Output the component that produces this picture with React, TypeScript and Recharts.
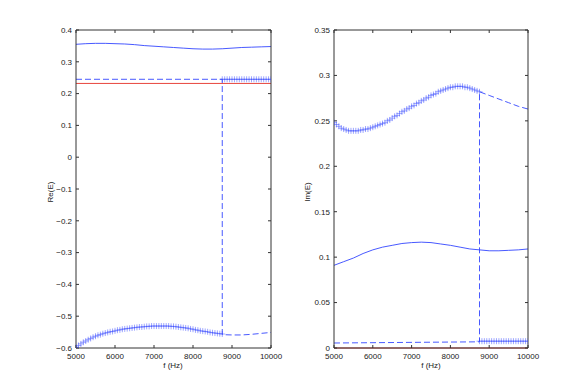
import React from "react";
import { ComposedChart, Line, XAxis, YAxis, ReferenceLine } from "recharts";

// marker frequency grid (Hz)
const markF = [
  5000, 5062.5, 5125, 5187.5, 5250, 5312.5, 5375, 5437.5, 5500, 5562.5,
  5625, 5687.5, 5750, 5812.5, 5875, 5937.5, 6000, 6062.5, 6125, 6187.5,
  6250, 6312.5, 6375, 6437.5, 6500, 6562.5, 6625, 6687.5, 6750, 6812.5,
  6875, 6937.5, 7000, 7062.5, 7125, 7187.5, 7250, 7312.5, 7375, 7437.5,
  7500, 7562.5, 7625, 7687.5, 7750, 7812.5, 7875, 7937.5, 8000, 8062.5,
  8125, 8187.5, 8250, 8312.5, 8375, 8437.5, 8500, 8562.5, 8625, 8687.5,
  8750, 8812.5, 8875, 8937.5, 9000, 9062.5, 9125, 9187.5, 9250, 9312.5,
  9375, 9437.5, 9500, 9562.5, 9625, 9687.5, 9750, 9812.5, 9875, 9937.5,
  10000,
];

// Re(E) markers: lower branch 5000-8750, upper branch 8750-10000
const reMarkLow = [
  -0.597, -0.592, -0.587, -0.582, -0.578, -0.574, -0.57, -0.566, -0.563, -0.56,
  -0.558, -0.555, -0.553, -0.551, -0.549, -0.548, -0.546, -0.544, -0.543, -0.541,
  -0.54, -0.539, -0.538, -0.537, -0.536, -0.535, -0.534, -0.534, -0.533, -0.532,
  -0.532, -0.531, -0.531, -0.531, -0.531, -0.531, -0.531, -0.531, -0.531, -0.532,
  -0.532, -0.533, -0.534, -0.535, -0.536, -0.537, -0.538, -0.54, -0.541, -0.543,
  -0.544, -0.546, -0.547, -0.548, -0.549, -0.551, -0.552, -0.553, -0.554, -0.555,
  -0.556,
];
const reMarkHigh = [
  0.245, 0.245, 0.245, 0.245, 0.245, 0.245, 0.245, 0.245, 0.245, 0.245,
  0.245, 0.245, 0.245, 0.245, 0.245, 0.245, 0.245, 0.245, 0.245, 0.245, 0.245,
];

// Im(E) markers: upper branch 5000-8750, lower branch 8750-10000
const imMarkHigh = [
  0.248, 0.246, 0.244, 0.242, 0.241, 0.24, 0.239, 0.239, 0.239, 0.239,
  0.239, 0.24, 0.24, 0.241, 0.241, 0.242, 0.243, 0.244, 0.245, 0.246,
  0.247, 0.248, 0.25, 0.251, 0.253, 0.255, 0.256, 0.258, 0.26, 0.261,
  0.263, 0.264, 0.266, 0.267, 0.269, 0.27, 0.272, 0.273, 0.275, 0.276,
  0.278, 0.279, 0.28, 0.282, 0.283, 0.284, 0.285, 0.286, 0.287, 0.287,
  0.288, 0.288, 0.288, 0.288, 0.287, 0.287, 0.286, 0.285, 0.284, 0.283,
  0.282,
];
const imMarkLow = [
  0.0075, 0.0075, 0.0075, 0.0075, 0.0075, 0.0075, 0.0075, 0.0075, 0.0075, 0.0075,
  0.0075, 0.0075, 0.0075, 0.0075, 0.0075, 0.0075, 0.0075, 0.0075, 0.0075, 0.0075, 0.0075,
];

// solid curves
const solidF = [
  5000, 5250, 5500, 5750, 6000, 6250, 6500, 6750, 7000, 7250, 7500,
  7750, 8000, 8250, 8500, 8750, 9000, 9250, 9500, 9750, 10000,
];
const reSolid = [
  0.355, 0.357, 0.358, 0.358, 0.357, 0.356, 0.354, 0.351, 0.349, 0.347, 0.345,
  0.343, 0.341, 0.34, 0.34, 0.341, 0.343, 0.345, 0.346, 0.347, 0.348,
];
const imSolid = [
  0.091, 0.095, 0.099, 0.104, 0.108, 0.111, 0.113, 0.115, 0.116, 0.1165, 0.116,
  0.1145, 0.113, 0.111, 0.109, 0.108, 0.107, 0.107, 0.1075, 0.108, 0.109,
];

// dashed curves (jump at 8750 Hz)
const dashF = [5000, 8750, 8750, 9000, 9250, 9500, 9750, 10000];
const reDash = [0.245, 0.245, -0.558, -0.559, -0.559, -0.557, -0.554, -0.551];
const imDash = [0.0055, 0.0068, 0.282, 0.278, 0.274, 0.27, 0.266, 0.263];

const reRef = 0.232;
const imRef = 0;

const fTicks = [5000, 6000, 7000, 8000, 9000, 10000];
const reTicks = [-0.6, -0.5, -0.4, -0.3, -0.2, -0.1, 0, 0.1, 0.2, 0.3, 0.4];
const imTicks = [0, 0.05, 0.1, 0.15, 0.2, 0.25, 0.3, 0.35];

const zip = (fs: number[], vs: number[]) => vs.map((v, i) => ({ f: fs[i], v }));

const BLUE = "#3346ff";
const FONT = "'Liberation Sans', Arial, sans-serif";
const tickStyle = { fill: "#222", fontSize: 8, fontFamily: FONT };
const fmt = (v: number) => (v < 0 ? "\u2212" + String(-v) : String(v));
const blank = () => "";

const plus = (p: any) => (
  <g key={p.index}>
    <line x1={p.cx - 3} x2={p.cx + 3} y1={p.cy} y2={p.cy} stroke={BLUE} strokeWidth={0.8} strokeOpacity={0.6} />
    <line x1={p.cx} x2={p.cx} y1={p.cy - 3} y2={p.cy + 3} stroke={BLUE} strokeWidth={0.8} strokeOpacity={0.6} />
  </g>
);

interface PanelProps {
  left: number;
  width: number;
  margin: { top: number; right: number; bottom: number; left: number };
  domain: [number, number];
  yTicks: number[];
  solid: { f: number; v: number }[];
  dashed: { f: number; v: number }[];
  marksA: { f: number; v: number }[];
  marksB: { f: number; v: number }[];
  refY: number;
}

// axis sizes: bottom 20, top 5, left 30, right 5 (margins are reduced by these)
function Panel({ left, width, margin, domain, yTicks, solid, dashed, marksA, marksB, refY }: PanelProps) {
  return (
    <div style={{ position: "absolute", left, top: 0 }}>
      <ComposedChart width={width} height={391} margin={margin}>
        <ReferenceLine xAxisId="b" yAxisId="l" y={refY} stroke="#e8453c" strokeWidth={1} />
        <XAxis xAxisId="b" dataKey="f" type="number" domain={[5000, 10000]} ticks={fTicks} allowDataOverflow
          height={20} tickSize={-3} tickMargin={8} tick={tickStyle} axisLine={{ stroke: "#333" }} tickLine={{ stroke: "#333" }} />
        <XAxis xAxisId="t" orientation="top" dataKey="f" type="number" domain={[5000, 10000]} ticks={fTicks} allowDataOverflow
          height={5} tickSize={-3} tickFormatter={blank} axisLine={{ stroke: "#333" }} tickLine={{ stroke: "#333" }} />
        <YAxis yAxisId="l" type="number" domain={domain} ticks={yTicks} allowDataOverflow
          width={30} tickSize={-3} tickMargin={7} tick={tickStyle} tickFormatter={fmt} axisLine={{ stroke: "#333" }} tickLine={{ stroke: "#333" }} />
        <YAxis yAxisId="r" orientation="right" type="number" domain={domain} ticks={yTicks} allowDataOverflow
          width={5} tickSize={-3} tickFormatter={blank} axisLine={{ stroke: "#333" }} tickLine={{ stroke: "#333" }} />
        <Line xAxisId="b" yAxisId="l" data={solid} dataKey="v" stroke={BLUE} strokeWidth={0.9} dot={false} activeDot={false} isAnimationActive={false} />
        <Line xAxisId="b" yAxisId="l" data={dashed} dataKey="v" stroke={BLUE} strokeWidth={0.9} strokeDasharray="6 3" dot={false} activeDot={false} isAnimationActive={false} />
        <Line xAxisId="b" yAxisId="l" data={marksA} dataKey="v" stroke="none" dot={plus} activeDot={false} isAnimationActive={false} />
        <Line xAxisId="b" yAxisId="l" data={marksB} dataKey="v" stroke="none" dot={plus} activeDot={false} isAnimationActive={false} />
      </ComposedChart>
    </div>
  );
}

const labelBase: React.CSSProperties = {
  position: "absolute",
  fontSize: 8,
  fontFamily: FONT,
  color: "#222",
  whiteSpace: "nowrap",
};

export default function App() {
  return (
    <div style={{ position: "absolute", left: 0, top: 0, width: 585, height: 391, background: "#fff" }}>
      <Panel
        left={0}
        width={290}
        margin={{ top: 25, right: 14, bottom: 23, left: 46 }}
        domain={[-0.6, 0.4]}
        yTicks={reTicks}
        solid={zip(solidF, reSolid)}
        dashed={zip(dashF, reDash)}
        marksA={zip(markF, reMarkLow)}
        marksB={zip(markF.slice(60), reMarkHigh)}
        refY={reRef}
      />
      <Panel
        left={290}
        width={295}
        margin={{ top: 25, right: 52, bottom: 23, left: 14 }}
        domain={[0, 0.35]}
        yTicks={imTicks}
        solid={zip(solidF, imSolid)}
        dashed={zip(dashF, imDash)}
        marksA={zip(markF, imMarkHigh)}
        marksB={zip(markF.slice(60), imMarkLow)}
        refY={imRef}
      />
      <div style={{ ...labelBase, left: 50, top: 192, transform: "translate(-50%, -50%) rotate(-90deg)" }}>Re(E)</div>
      <div style={{ ...labelBase, left: 307, top: 192, transform: "translate(-50%, -50%) rotate(-90deg)" }}>Im(E)</div>
      <div style={{ ...labelBase, left: 173, top: 365, transform: "translate(-50%, -50%)" }}>f (Hz)</div>
      <div style={{ ...labelBase, left: 431, top: 365, transform: "translate(-50%, -50%)" }}>f (Hz)</div>
    </div>
  );
}
